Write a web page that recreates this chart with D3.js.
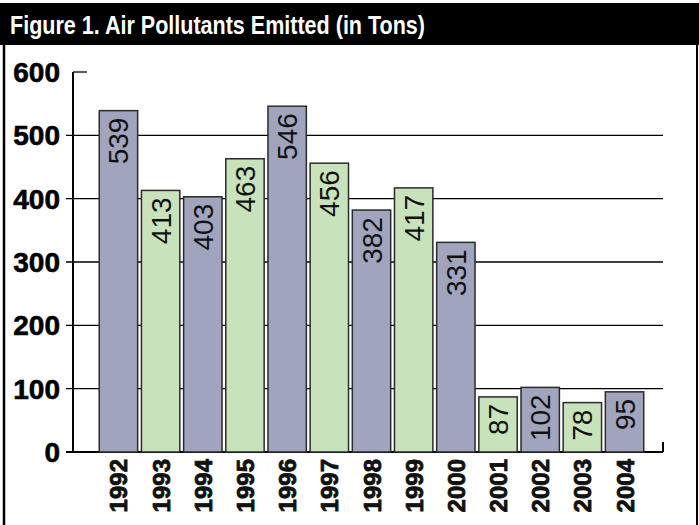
<!DOCTYPE html>
<html>
<head>
<meta charset="utf-8">
<script src="https://cdn.jsdelivr.net/npm/d3@7"></script>
<style>
  body { margin: 0; background: #fff; }
  svg { display: block; }
</style>
</head>
<body>
<div id="chart"></div>
<script>
// data
var years = ["1992", "1993", "1994", "1995", "1996", "1997", "1998", "1999", "2000", "2001", "2002", "2003", "2004"];
var tons = [539, 413, 403, 463, 546, 456, 382, 417, 331, 87, 102, 78, 95];
var yTicks = [0, 100, 200, 300, 400, 500, 600];
var title = "Figure 1. Air Pollutants Emitted (in Tons)";

var W = 699, H = 525;
var colors = ["#a0a5bd", "#c8e3bb"];

const svg = d3.select("#chart").append("svg")
    .attr("width", W)
    .attr("height", H);

// frame + header bar
svg.append("rect")
    .attr("x", 0).attr("y", 3)
    .attr("width", W).attr("height", 42)
    .attr("fill", "#000");
svg.append("line")
    .attr("x1", 4).attr("x2", 4).attr("y1", 45).attr("y2", H)
    .attr("stroke", "#000").attr("stroke-width", 2.5);
svg.append("line")
    .attr("x1", 697).attr("x2", 697).attr("y1", 45).attr("y2", H)
    .attr("stroke", "#000").attr("stroke-width", 2);

// condensed look: squeeze a normal bold face
svg.append("text")
    .attr("x", 10).attr("y", 34)
    .attr("fill", "#fff")
    .attr("font-family", "'Liberation Sans', Arial, sans-serif")
    .attr("font-weight", "bold")
    .attr("font-size", 25)
    .attr("textLength", 415)
    .attr("lengthAdjust", "spacingAndGlyphs")
    .text(title);

// scales
const x = d3.scaleBand()
    .domain(years)
    .range([98, 645])
    .paddingInner(0.09)
    .paddingOuter(0.03);
const y = d3.scaleLinear()
    .domain([0, 600])
    .range([452, 72]);

const axisX0 = 73, axisX1 = 663;

// gridlines (behind bars)
svg.append("g").selectAll("line")
    .data(yTicks)
    .enter().append("line")
    .attr("x1", d => d == 600 ? axisX0 : 66)
    .attr("x2", d => d == 600 ? 87 : axisX1)
    .attr("y1", d => y(d)).attr("y2", d => y(d))
    .attr("stroke", "#000")
    .attr("stroke-width", d => d == 0 ? 2 : 1.3);

// y axis line
svg.append("line")
    .attr("x1", axisX0).attr("x2", axisX0)
    .attr("y1", y(600)).attr("y2", y(0))
    .attr("stroke", "#000").attr("stroke-width", 2);
// small end tick on right
svg.append("line")
    .attr("x1", axisX1).attr("x2", axisX1)
    .attr("y1", y(0) - 10).attr("y2", y(0))
    .attr("stroke", "#000").attr("stroke-width", 2);

// y tick labels
svg.append("g").selectAll("text")
    .data(yTicks)
    .enter().append("text")
    .attr("x", 60)
    .attr("y", d => y(d) + 10)
    .attr("text-anchor", "end")
    .attr("font-family", "'Liberation Sans', Arial, sans-serif")
    .attr("font-weight", "bold")
    .attr("font-size", 28)
    .attr("stroke", "#000")
    .attr("stroke-width", 0.6)
    .text(d => d);

// bars
const bars = svg.append("g").selectAll("g")
    .data(years)
    .enter().append("g");

bars.append("rect")
    .attr("x", d => x(d))
    .attr("y", (d, i) => y(tons[i]))
    .attr("width", x.bandwidth())
    .attr("height", (d, i) => y(0) - y(tons[i]))
    .attr("fill", (d, i) => colors[i % 2])
    .attr("stroke", "#2a2a2a")
    .attr("stroke-width", 1.5);

// values inside bars, rotated
bars.append("text")
    .attr("transform", (d, i) => "translate(" + (x(d) + x.bandwidth() / 2 + 10) + "," + (y(tons[i]) + 7) + ") rotate(-90)")
    .attr("text-anchor", "end")
    .attr("font-family", "'Liberation Sans', Arial, sans-serif")
    .attr("font-size", 28)
    .attr("fill", "#111")
    .text((d, i) => tons[i]);

// x labels
bars.append("text")
    .attr("transform", d => "translate(" + (x(d) + x.bandwidth() / 2 + 9) + ",459) rotate(-90)")
    .attr("text-anchor", "end")
    .attr("font-family", "'Liberation Sans', Arial, sans-serif")
    .attr("font-weight", "bold")
    .attr("font-size", 24)
    .attr("fill", "#111")
    .attr("stroke", "#111")
    .attr("stroke-width", 0.8)
    .text(d => d);
</script>
</body>
</html>
